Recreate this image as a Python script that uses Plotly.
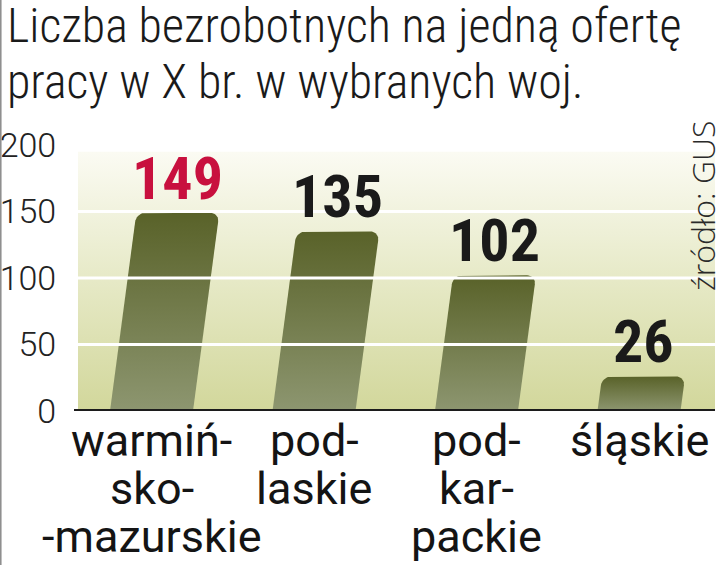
import numpy as np
import plotly.graph_objects as go

# ---------------- data ----------------
title_lines = ["Liczba bezrobotnych na jedną ofertę", "pracy w X br. w wybranych woj."]
categories = [["warmiń-", "sko-", "-mazurskie"], ["pod-", "laskie"], ["pod-", "kar-", "packie"], ["śląskie"]]
values = [149, 135, 102, 26]
y_ticks = [0, 50, 100, 150, 200]
grid_values = [50, 100, 150]
source = "źródło: GUS"

# ---------------- geometry / style ----------------
W, H = 720, 565
L, R, T, B = 78, 5, 145, 154
PW, PH = W - L - R, H - T - B
XR = [-0.4523, 3.4677]
YR = [0, 200]
PXX = PW / (XR[1] - XR[0])   # px per x unit
PXY = PH / (YR[1] - YR[0])   # px per y unit
BAR_W = 83.0                 # px
SLANT = 0.133                # px horizontal per px vertical
RAD = 9.0                    # px corner radius

FONT_TITLE = "Roboto Condensed"
FONT_NUM = "Roboto Condensed"
FONT_LAB = "Roboto"
HIGHLIGHT = 0

fig = go.Figure()

# background gradient
fig.add_trace(go.Scatter(
    x=[XR[0], XR[1], XR[1], XR[0], XR[0]], y=[0, 0, 195, 195, 0],
    mode="lines", line=dict(width=0), fill="toself",
    fillgradient=dict(type="vertical", colorscale=[[0, "#d2d79b"], [0.5, "#e6e9c6"], [1, "#fbfbf3"]]),
    hoverinfo="skip", showlegend=False))


def bar_polygon(i, v):
    h = v * PXY
    half = BAR_W / 2
    pts = [(-half, 0.0), (half, 0.0), (half, h - RAD)]
    for a in np.linspace(0, np.pi / 2, 10)[1:]:
        pts.append((half - RAD + RAD * np.cos(a), h - RAD + RAD * np.sin(a)))
    for a in np.linspace(np.pi / 2, np.pi, 10)[1:]:
        pts.append((-half + RAD + RAD * np.cos(a), h - RAD + RAD * np.sin(a)))
    pts.append((-half, 0.0))
    xs = [i + (u + SLANT * w) / PXX for u, w in pts]
    ys = [w / PXY for u, w in pts]
    return xs, ys


for i, v in enumerate(values):
    xs, ys = bar_polygon(i, v)
    fig.add_trace(go.Scatter(
        x=xs, y=ys, mode="lines", line=dict(width=0), fill="toself",
        fillgradient=dict(type="vertical", colorscale=[[0, "#8d9670"], [1, "#596229"]]),
        hoverinfo="skip", showlegend=False))
    # value label
    top_x = i + SLANT * v * PXY / PXX
    fig.add_annotation(x=top_x, y=v, xref="x", yref="y", text=str(v), showarrow=False,
                       xanchor="center", yanchor="bottom", yshift=-3,
                       font=dict(family=FONT_NUM, size=60, weight=700,
                                 color="#c8103e" if i == HIGHLIGHT else "#1a1a1a"))
    # category label lines
    for k, line in enumerate(categories[i]):
        fig.add_annotation(x=i, y=0, xref="x", yref="paper", text=line, showarrow=False,
                           xanchor="center", yanchor="middle", yshift=-29 - 48 * k,
                           font=dict(family=FONT_LAB, size=45, weight=400, color="#141414"))

# gridlines over bars
for g in grid_values:
    fig.add_shape(type="line", xref="paper", yref="y", x0=0, x1=1, y0=g, y1=g,
                  line=dict(color="white", width=3), layer="above")
# baseline
fig.add_shape(type="line", xref="paper", yref="y", x0=-4 / PW, x1=1, y0=0, y1=0,
              line=dict(color="#1c1c1c", width=4), layer="above")
# left border of the clipping
fig.add_shape(type="line", xref="paper", yref="paper", x0=(0.8 - L) / PW, x1=(0.8 - L) / PW,
              y0=-B / PH, y1=1 + T / PH, line=dict(color="#8a8a8a", width=1.5), layer="above")

# title
for k, line in enumerate(title_lines):
    fig.add_annotation(x=(5 - L) / PW, y=1, xref="paper", yref="paper", text=line, showarrow=False,
                       xanchor="left", yanchor="middle", yshift=120 - 56 * k,
                       font=dict(family=FONT_TITLE, size=48, weight=300, color="#1a1a1a"))

# source
fig.add_annotation(x=(702 - L) / PW, y=(PH + T - 206) / PH, xref="paper", yref="paper",
                   text=source, showarrow=False, textangle=-90, xanchor="center", yanchor="middle",
                   font=dict(family="Open Sans", size=32, weight=300, color="#2a2a2a"))

fig.update_layout(
    width=W, height=H, margin=dict(l=L, r=R, t=T, b=B, autoexpand=False),
    paper_bgcolor="white", plot_bgcolor="rgba(0,0,0,0)", showlegend=False,
    xaxis=dict(range=XR, visible=False, fixedrange=True, automargin=False),
    yaxis=dict(range=YR, tickvals=y_ticks, showgrid=False, zeroline=False, showline=False,
               ticks="outside", ticklen=14, tickcolor="rgba(0,0,0,0)", automargin=False,
               tickfont=dict(family="Roboto", size=34, weight=300, color="#222222"), fixedrange=True),
)
fig.write_html("out.html", config={"displayModeBar": False, "staticPlot": True},
               post_script="document.body.style.margin='0px';document.body.style.padding='0px';")
